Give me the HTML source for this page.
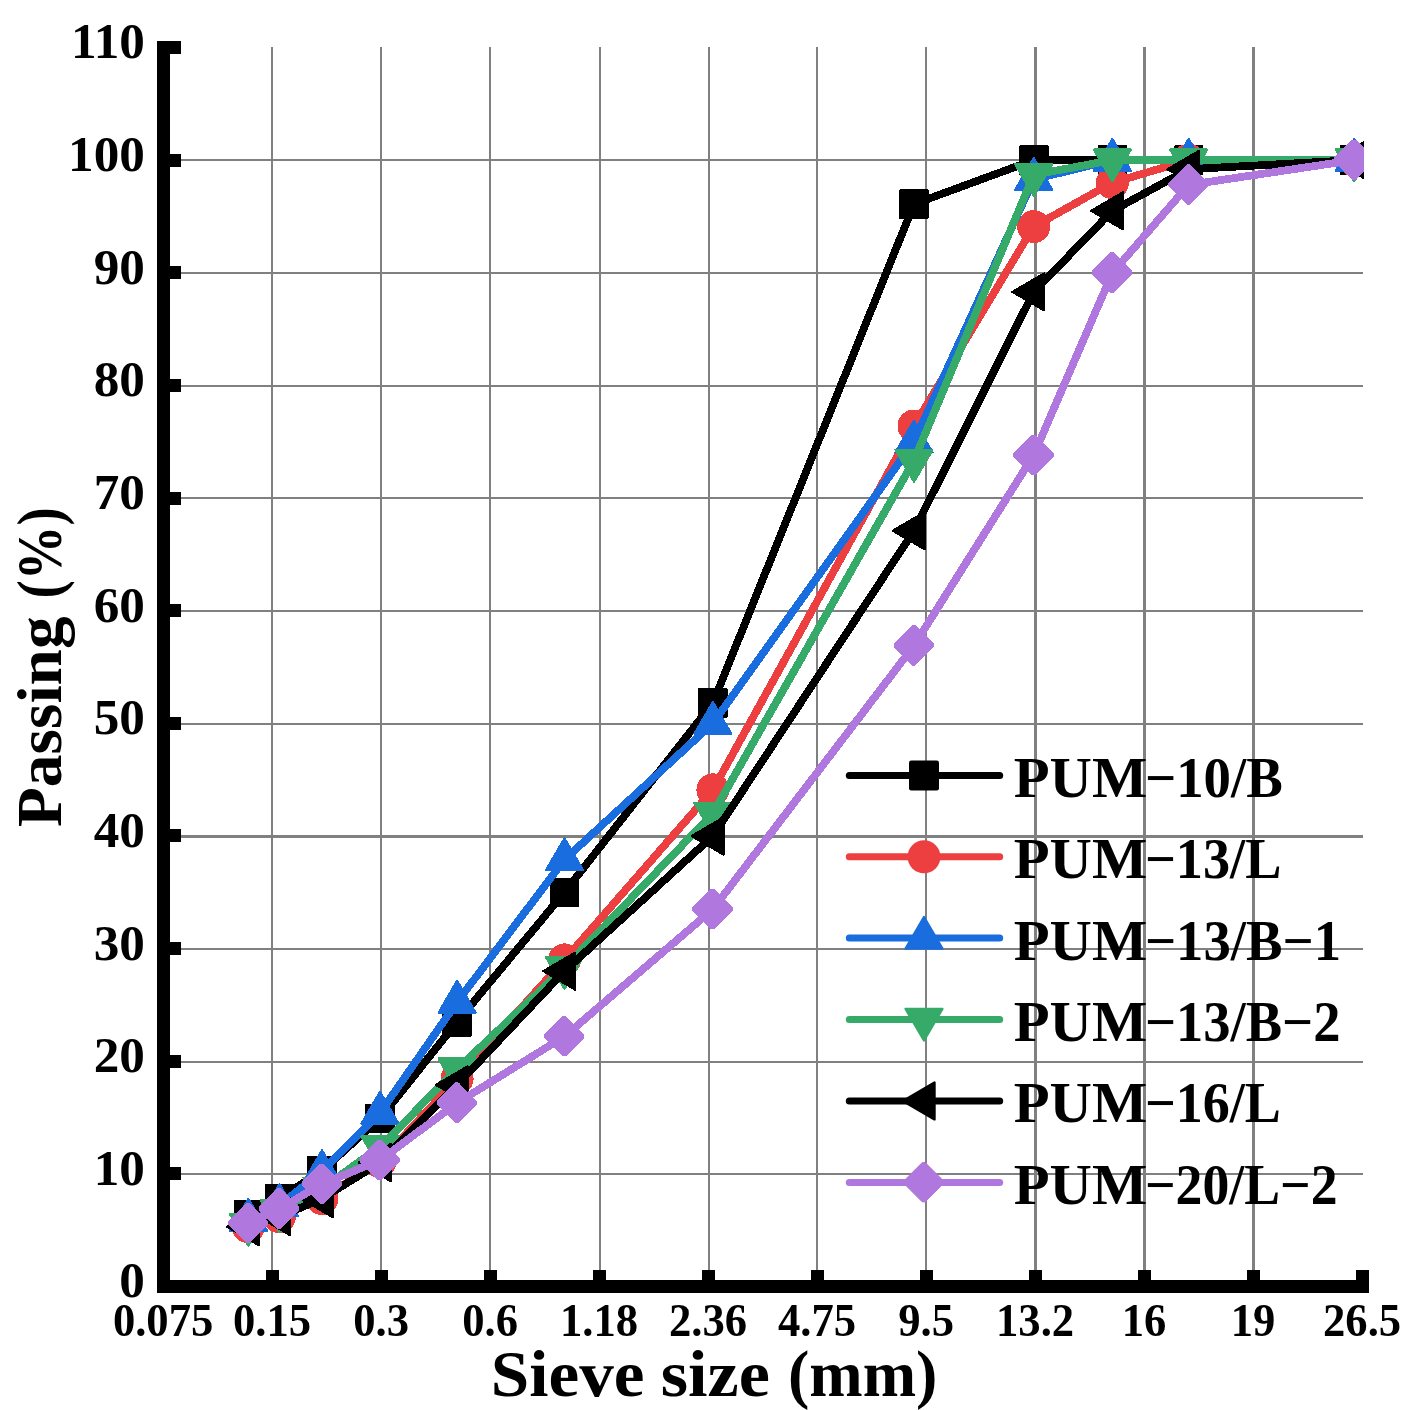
<!DOCTYPE html>
<html lang="en"><head><meta charset="utf-8"><title>Sieve size vs Passing</title>
<style>
html,body{margin:0;padding:0;background:#fff;}
body{width:1415px;height:1410px;overflow:hidden;}
svg{display:block;}
text{font-family:"Liberation Serif",serif;font-weight:bold;fill:#000;}
</style></head><body>
<svg width="1415" height="1410" viewBox="0 0 1415 1410">
<rect width="1415" height="1410" fill="#fff"/>
<defs><clipPath id="plot"><rect x="150" y="30" width="1214" height="1270"/></clipPath></defs>

<g fill="#808080">
<rect x="271" y="47" width="2" height="1235"/>
<rect x="380" y="47" width="2" height="1235"/>
<rect x="489" y="47" width="2" height="1235"/>
<rect x="599" y="47" width="2" height="1235"/>
<rect x="708" y="47" width="2" height="1235"/>
<rect x="816" y="47" width="2" height="1235"/>
<rect x="925" y="47" width="2" height="1235"/>
<rect x="1034" y="47" width="3" height="1235"/>
<rect x="1143" y="47" width="3" height="1235"/>
<rect x="1252" y="47" width="3" height="1235"/>
<rect x="165" y="159" width="1198" height="2"/>
<rect x="165" y="272" width="1198" height="2"/>
<rect x="165" y="385" width="1198" height="2"/>
<rect x="165" y="497" width="1198" height="2"/>
<rect x="165" y="610" width="1198" height="2"/>
<rect x="165" y="723" width="1198" height="2"/>
<rect x="165" y="835" width="1198" height="3"/>
<rect x="165" y="948" width="1198" height="2"/>
<rect x="165" y="1061" width="1198" height="2"/>
<rect x="165" y="1173" width="1198" height="2"/>
</g>
<g clip-path="url(#plot)" shape-rendering="crispEdges">
<polyline points="248.4,1214.4 279.5,1198.6 322.0,1170.5 380.0,1118.7 457.1,1021.8 564.5,892.3 712.9,703.0 914.0,204.1 1033.7,160.1 1112.4,160.1 1188.7,160.1 1354.3,160.1" fill="none" stroke="#000000" stroke-width="7.8" stroke-linejoin="round" stroke-linecap="round"/>
<rect x="233.7" y="1199.7" width="29.5" height="29.5" rx="1" fill="#000000"/>
<rect x="264.8" y="1183.9" width="29.5" height="29.5" rx="1" fill="#000000"/>
<rect x="307.3" y="1155.7" width="29.5" height="29.5" rx="1" fill="#000000"/>
<rect x="365.3" y="1103.9" width="29.5" height="29.5" rx="1" fill="#000000"/>
<rect x="442.3" y="1007.1" width="29.5" height="29.5" rx="1" fill="#000000"/>
<rect x="549.8" y="877.5" width="29.5" height="29.5" rx="1" fill="#000000"/>
<rect x="698.1" y="688.3" width="29.5" height="29.5" rx="1" fill="#000000"/>
<rect x="899.2" y="189.3" width="29.5" height="29.5" rx="1" fill="#000000"/>
<rect x="1019.0" y="145.4" width="29.5" height="29.5" rx="1" fill="#000000"/>
<rect x="1097.7" y="145.4" width="29.5" height="29.5" rx="1" fill="#000000"/>
<rect x="1173.9" y="145.4" width="29.5" height="29.5" rx="1" fill="#000000"/>
<rect x="1339.5" y="145.4" width="29.5" height="29.5" rx="1" fill="#000000"/>
<polyline points="248.4,1226.8 279.5,1216.7 322.0,1198.6 380.0,1161.5 457.1,1078.7 564.5,959.9 712.9,789.8 914.0,426.0 1033.7,226.6 1112.4,182.7 1188.7,160.1 1354.3,160.1" fill="none" stroke="#EE3F40" stroke-width="7.8" stroke-linejoin="round" stroke-linecap="round"/>
<circle cx="248.4" cy="1226.8" r="16.5" fill="#EE3F40"/>
<circle cx="279.5" cy="1216.7" r="16.5" fill="#EE3F40"/>
<circle cx="322.0" cy="1198.6" r="16.5" fill="#EE3F40"/>
<circle cx="380.0" cy="1161.5" r="16.5" fill="#EE3F40"/>
<circle cx="457.1" cy="1078.7" r="16.5" fill="#EE3F40"/>
<circle cx="564.5" cy="959.9" r="16.5" fill="#EE3F40"/>
<circle cx="712.9" cy="789.8" r="16.5" fill="#EE3F40"/>
<circle cx="914.0" cy="426.0" r="16.5" fill="#EE3F40"/>
<circle cx="1033.7" cy="226.6" r="16.5" fill="#EE3F40"/>
<circle cx="1112.4" cy="182.7" r="16.5" fill="#EE3F40"/>
<circle cx="1188.7" cy="160.1" r="16.5" fill="#EE3F40"/>
<circle cx="1354.3" cy="160.1" r="16.5" fill="#EE3F40"/>
<polyline points="248.4,1220.0 279.5,1205.4 322.0,1171.6 380.0,1113.0 457.1,1002.1 564.5,859.6 712.9,723.3 914.0,441.7 1033.7,179.3 1112.4,160.1 1188.7,160.1 1354.3,160.1" fill="none" stroke="#1A6DDE" stroke-width="7.8" stroke-linejoin="round" stroke-linecap="round"/>
<polygon points="230.0,1230.6 266.8,1230.6 248.4,1199.0" fill="#1A6DDE" stroke="#1A6DDE" stroke-width="2.4" stroke-linejoin="round"/>
<polygon points="261.1,1215.9 297.9,1215.9 279.5,1184.3" fill="#1A6DDE" stroke="#1A6DDE" stroke-width="2.4" stroke-linejoin="round"/>
<polygon points="303.6,1182.1 340.4,1182.1 322.0,1150.5" fill="#1A6DDE" stroke="#1A6DDE" stroke-width="2.4" stroke-linejoin="round"/>
<polygon points="361.6,1123.6 398.4,1123.6 380.0,1092.0" fill="#1A6DDE" stroke="#1A6DDE" stroke-width="2.4" stroke-linejoin="round"/>
<polygon points="438.7,1012.6 475.5,1012.6 457.1,981.0" fill="#1A6DDE" stroke="#1A6DDE" stroke-width="2.4" stroke-linejoin="round"/>
<polygon points="546.1,870.1 582.9,870.1 564.5,838.5" fill="#1A6DDE" stroke="#1A6DDE" stroke-width="2.4" stroke-linejoin="round"/>
<polygon points="694.5,733.9 731.3,733.9 712.9,702.3" fill="#1A6DDE" stroke="#1A6DDE" stroke-width="2.4" stroke-linejoin="round"/>
<polygon points="895.6,452.3 932.4,452.3 914.0,420.7" fill="#1A6DDE" stroke="#1A6DDE" stroke-width="2.4" stroke-linejoin="round"/>
<polygon points="1015.3,189.8 1052.1,189.8 1033.7,158.2" fill="#1A6DDE" stroke="#1A6DDE" stroke-width="2.4" stroke-linejoin="round"/>
<polygon points="1094.0,170.7 1130.8,170.7 1112.4,139.1" fill="#1A6DDE" stroke="#1A6DDE" stroke-width="2.4" stroke-linejoin="round"/>
<polygon points="1170.3,170.7 1207.1,170.7 1188.7,139.1" fill="#1A6DDE" stroke="#1A6DDE" stroke-width="2.4" stroke-linejoin="round"/>
<polygon points="1335.9,170.7 1372.7,170.7 1354.3,139.1" fill="#1A6DDE" stroke="#1A6DDE" stroke-width="2.4" stroke-linejoin="round"/>
<polyline points="248.4,1224.6 279.5,1211.0 322.0,1188.5 380.0,1146.8 457.1,1069.1 564.5,967.7 712.9,813.4 914.0,460.5 1033.7,174.8 1112.4,160.1 1188.7,160.1 1354.3,160.1" fill="none" stroke="#36AA69" stroke-width="7.8" stroke-linejoin="round" stroke-linecap="round"/>
<polygon points="230.0,1214.0 266.8,1214.0 248.4,1245.6" fill="#36AA69" stroke="#36AA69" stroke-width="2.4" stroke-linejoin="round"/>
<polygon points="261.1,1200.5 297.9,1200.5 279.5,1232.1" fill="#36AA69" stroke="#36AA69" stroke-width="2.4" stroke-linejoin="round"/>
<polygon points="303.6,1178.0 340.4,1178.0 322.0,1209.6" fill="#36AA69" stroke="#36AA69" stroke-width="2.4" stroke-linejoin="round"/>
<polygon points="361.6,1136.3 398.4,1136.3 380.0,1167.9" fill="#36AA69" stroke="#36AA69" stroke-width="2.4" stroke-linejoin="round"/>
<polygon points="438.7,1058.6 475.5,1058.6 457.1,1090.2" fill="#36AA69" stroke="#36AA69" stroke-width="2.4" stroke-linejoin="round"/>
<polygon points="546.1,957.2 582.9,957.2 564.5,988.8" fill="#36AA69" stroke="#36AA69" stroke-width="2.4" stroke-linejoin="round"/>
<polygon points="694.5,802.9 731.3,802.9 712.9,834.5" fill="#36AA69" stroke="#36AA69" stroke-width="2.4" stroke-linejoin="round"/>
<polygon points="895.6,450.0 932.4,450.0 914.0,481.6" fill="#36AA69" stroke="#36AA69" stroke-width="2.4" stroke-linejoin="round"/>
<polygon points="1015.3,164.2 1052.1,164.2 1033.7,195.8" fill="#36AA69" stroke="#36AA69" stroke-width="2.4" stroke-linejoin="round"/>
<polygon points="1094.0,149.6 1130.8,149.6 1112.4,181.2" fill="#36AA69" stroke="#36AA69" stroke-width="2.4" stroke-linejoin="round"/>
<polygon points="1170.3,149.6 1207.1,149.6 1188.7,181.2" fill="#36AA69" stroke="#36AA69" stroke-width="2.4" stroke-linejoin="round"/>
<polygon points="1335.9,149.6 1372.7,149.6 1354.3,181.2" fill="#36AA69" stroke="#36AA69" stroke-width="2.4" stroke-linejoin="round"/>
<polyline points="248.4,1226.8 279.5,1216.7 322.0,1198.6 380.0,1162.6 457.1,1084.9 564.5,971.1 712.9,836.0 914.0,530.7 1033.7,291.9 1112.4,210.8 1188.7,169.2 1354.3,160.1" fill="none" stroke="#000000" stroke-width="7.8" stroke-linejoin="round" stroke-linecap="round"/>
<polygon points="259.0,1208.4 259.0,1245.2 227.4,1226.8" fill="#000000" stroke="#000000" stroke-width="2.4" stroke-linejoin="round"/>
<polygon points="290.1,1198.3 290.1,1235.1 258.5,1216.7" fill="#000000" stroke="#000000" stroke-width="2.4" stroke-linejoin="round"/>
<polygon points="332.5,1180.2 332.5,1217.0 300.9,1198.6" fill="#000000" stroke="#000000" stroke-width="2.4" stroke-linejoin="round"/>
<polygon points="390.6,1144.2 390.6,1181.0 359.0,1162.6" fill="#000000" stroke="#000000" stroke-width="2.4" stroke-linejoin="round"/>
<polygon points="467.6,1066.5 467.6,1103.3 436.0,1084.9" fill="#000000" stroke="#000000" stroke-width="2.4" stroke-linejoin="round"/>
<polygon points="575.1,952.7 575.1,989.5 543.5,971.1" fill="#000000" stroke="#000000" stroke-width="2.4" stroke-linejoin="round"/>
<polygon points="723.4,817.6 723.4,854.4 691.8,836.0" fill="#000000" stroke="#000000" stroke-width="2.4" stroke-linejoin="round"/>
<polygon points="924.5,512.3 924.5,549.1 892.9,530.7" fill="#000000" stroke="#000000" stroke-width="2.4" stroke-linejoin="round"/>
<polygon points="1044.2,273.5 1044.2,310.3 1012.6,291.9" fill="#000000" stroke="#000000" stroke-width="2.4" stroke-linejoin="round"/>
<polygon points="1122.9,192.4 1122.9,229.2 1091.3,210.8" fill="#000000" stroke="#000000" stroke-width="2.4" stroke-linejoin="round"/>
<polygon points="1199.2,150.8 1199.2,187.6 1167.6,169.2" fill="#000000" stroke="#000000" stroke-width="2.4" stroke-linejoin="round"/>
<polygon points="1364.8,141.7 1364.8,178.5 1333.2,160.1" fill="#000000" stroke="#000000" stroke-width="2.4" stroke-linejoin="round"/>
<polyline points="248.4,1223.4 279.5,1208.8 322.0,1184.0 380.0,1160.3 457.1,1102.9 564.5,1036.4 712.9,909.2 914.0,645.6 1033.7,455.2 1112.4,272.8 1188.7,184.9 1354.3,160.1" fill="none" stroke="#B078DE" stroke-width="7.8" stroke-linejoin="round" stroke-linecap="round"/>
<polygon points="228.4,1221.7 246.7,1203.4 249.5,1203.4 267.8,1221.7 267.8,1224.5 249.5,1242.8 246.7,1242.8 228.4,1224.5" fill="#B078DE" stroke="#B078DE" stroke-width="1" stroke-linejoin="round"/>
<polygon points="259.5,1207.1 277.8,1188.8 280.6,1188.8 298.9,1207.1 298.9,1209.9 280.6,1228.2 277.8,1228.2 259.5,1209.9" fill="#B078DE" stroke="#B078DE" stroke-width="1" stroke-linejoin="round"/>
<polygon points="302.0,1182.3 320.3,1164.0 323.1,1164.0 341.4,1182.3 341.4,1185.1 323.1,1203.4 320.3,1203.4 302.0,1185.1" fill="#B078DE" stroke="#B078DE" stroke-width="1" stroke-linejoin="round"/>
<polygon points="360.0,1158.6 378.3,1140.3 381.1,1140.3 399.4,1158.6 399.4,1161.4 381.1,1179.7 378.3,1179.7 360.0,1161.4" fill="#B078DE" stroke="#B078DE" stroke-width="1" stroke-linejoin="round"/>
<polygon points="437.1,1101.2 455.4,1082.9 458.2,1082.9 476.5,1101.2 476.5,1104.0 458.2,1122.3 455.4,1122.3 437.1,1104.0" fill="#B078DE" stroke="#B078DE" stroke-width="1" stroke-linejoin="round"/>
<polygon points="544.5,1034.7 562.8,1016.4 565.6,1016.4 583.9,1034.7 583.9,1037.5 565.6,1055.8 562.8,1055.8 544.5,1037.5" fill="#B078DE" stroke="#B078DE" stroke-width="1" stroke-linejoin="round"/>
<polygon points="692.9,907.5 711.2,889.2 714.0,889.2 732.3,907.5 732.3,910.3 714.0,928.6 711.2,928.6 692.9,910.3" fill="#B078DE" stroke="#B078DE" stroke-width="1" stroke-linejoin="round"/>
<polygon points="894.0,643.9 912.3,625.6 915.1,625.6 933.4,643.9 933.4,646.7 915.1,665.0 912.3,665.0 894.0,646.7" fill="#B078DE" stroke="#B078DE" stroke-width="1" stroke-linejoin="round"/>
<polygon points="1013.7,453.5 1032.0,435.2 1034.8,435.2 1053.1,453.5 1053.1,456.3 1034.8,474.6 1032.0,474.6 1013.7,456.3" fill="#B078DE" stroke="#B078DE" stroke-width="1" stroke-linejoin="round"/>
<polygon points="1092.4,271.1 1110.7,252.8 1113.5,252.8 1131.8,271.1 1131.8,273.9 1113.5,292.2 1110.7,292.2 1092.4,273.9" fill="#B078DE" stroke="#B078DE" stroke-width="1" stroke-linejoin="round"/>
<polygon points="1168.7,183.2 1187.0,164.9 1189.8,164.9 1208.1,183.2 1208.1,186.0 1189.8,204.3 1187.0,204.3 1168.7,186.0" fill="#B078DE" stroke="#B078DE" stroke-width="1" stroke-linejoin="round"/>
<polygon points="1334.3,158.4 1352.6,140.1 1355.4,140.1 1373.7,158.4 1373.7,161.2 1355.4,179.5 1352.6,179.5 1334.3,161.2" fill="#B078DE" stroke="#B078DE" stroke-width="1" stroke-linejoin="round"/>
</g>
<g fill="#000">
<rect x="157" y="41" width="13" height="1252"/>
<rect x="157" y="1280" width="1212" height="13"/>
<rect x="163" y="1280" width="18" height="13"/>
<rect x="163" y="1167" width="18" height="13"/>
<rect x="163" y="1055" width="18" height="13"/>
<rect x="163" y="942" width="18" height="13"/>
<rect x="163" y="829" width="18" height="13"/>
<rect x="163" y="717" width="18" height="13"/>
<rect x="163" y="604" width="18" height="13"/>
<rect x="163" y="492" width="18" height="13"/>
<rect x="163" y="379" width="18" height="13"/>
<rect x="163" y="266" width="18" height="13"/>
<rect x="163" y="154" width="18" height="13"/>
<rect x="163" y="41" width="18" height="13"/>
<rect x="157" y="1270" width="13" height="16"/>
<rect x="266" y="1270" width="13" height="16"/>
<rect x="375" y="1270" width="13" height="16"/>
<rect x="484" y="1270" width="13" height="16"/>
<rect x="593" y="1270" width="13" height="16"/>
<rect x="702" y="1270" width="13" height="16"/>
<rect x="811" y="1270" width="13" height="16"/>
<rect x="920" y="1270" width="13" height="16"/>
<rect x="1029" y="1270" width="13" height="16"/>
<rect x="1138" y="1270" width="13" height="16"/>
<rect x="1247" y="1270" width="13" height="16"/>
<rect x="1356" y="1270" width="13" height="16"/>
</g>
<text transform="translate(144.9,1297.4) scale(1.0,1)" font-size="51.2" text-anchor="end">0</text>
<text transform="translate(144.9,1184.8) scale(1.0,1)" font-size="51.2" text-anchor="end">10</text>
<text transform="translate(144.9,1072.1) scale(1.0,1)" font-size="51.2" text-anchor="end">20</text>
<text transform="translate(144.9,959.5) scale(1.0,1)" font-size="51.2" text-anchor="end">30</text>
<text transform="translate(144.9,846.9) scale(1.0,1)" font-size="51.2" text-anchor="end">40</text>
<text transform="translate(144.9,734.2) scale(1.0,1)" font-size="51.2" text-anchor="end">50</text>
<text transform="translate(144.9,621.6) scale(1.0,1)" font-size="51.2" text-anchor="end">60</text>
<text transform="translate(144.9,508.9) scale(1.0,1)" font-size="51.2" text-anchor="end">70</text>
<text transform="translate(144.9,396.3) scale(1.0,1)" font-size="51.2" text-anchor="end">80</text>
<text transform="translate(144.9,283.7) scale(1.0,1)" font-size="51.2" text-anchor="end">90</text>
<text transform="translate(144.9,171.0) scale(1.0,1)" font-size="51.2" text-anchor="end">100</text>
<text transform="translate(144.9,58.4) scale(1.0,1)" font-size="51.2" text-anchor="end">110</text>
<text transform="translate(163.1,1335.8) scale(0.977,1)" font-size="45.7" text-anchor="middle">0.075</text>
<text transform="translate(272.1,1335.8) scale(0.977,1)" font-size="45.7" text-anchor="middle">0.15</text>
<text transform="translate(381.1,1335.8) scale(0.977,1)" font-size="45.7" text-anchor="middle">0.3</text>
<text transform="translate(490.1,1335.8) scale(0.977,1)" font-size="45.7" text-anchor="middle">0.6</text>
<text transform="translate(599.1,1335.8) scale(0.977,1)" font-size="45.7" text-anchor="middle">1.18</text>
<text transform="translate(708.1,1335.8) scale(0.977,1)" font-size="45.7" text-anchor="middle">2.36</text>
<text transform="translate(817.1,1335.8) scale(0.977,1)" font-size="45.7" text-anchor="middle">4.75</text>
<text transform="translate(926.1,1335.8) scale(0.977,1)" font-size="45.7" text-anchor="middle">9.5</text>
<text transform="translate(1035.1,1335.8) scale(0.977,1)" font-size="45.7" text-anchor="middle">13.2</text>
<text transform="translate(1144.1,1335.8) scale(0.977,1)" font-size="45.7" text-anchor="middle">16</text>
<text transform="translate(1253.1,1335.8) scale(0.977,1)" font-size="45.7" text-anchor="middle">19</text>
<text transform="translate(1362.1,1335.8) scale(0.977,1)" font-size="45.7" text-anchor="middle">26.5</text>
<text y="1395.9" font-size="65"><tspan x="490.77" textLength="153.79" lengthAdjust="spacingAndGlyphs">Sieve</tspan> <tspan x="660.69" textLength="109.12" lengthAdjust="spacingAndGlyphs">size</tspan> <tspan x="787.92" textLength="149.48" lengthAdjust="spacingAndGlyphs">(mm)</tspan></text>
<text transform="translate(61,0) rotate(-90)" y="0" font-size="64"><tspan x="-827.14" textLength="210.75" lengthAdjust="spacingAndGlyphs">Passing</tspan> <tspan x="-598.46" textLength="91.04" lengthAdjust="spacingAndGlyphs">(%)</tspan></text>
<line x1="849.3" y1="775.5" x2="999.7" y2="775.5" stroke="#000000" stroke-width="7" stroke-linecap="round"/>
<rect x="909.0" y="760.5" width="30" height="30" rx="2.2" fill="#000000"/>
<text y="796.9" font-size="57"><tspan x="1013.77" textLength="133.55" lengthAdjust="spacingAndGlyphs">PUM</tspan><tspan x="1144.92" textLength="137.87" lengthAdjust="spacingAndGlyphs">−10/B</tspan></text>
<line x1="849.3" y1="856.8" x2="999.7" y2="856.8" stroke="#EE3F40" stroke-width="7" stroke-linecap="round"/>
<circle cx="924.0" cy="856.8" r="16.5" fill="#EE3F40"/>
<text y="878.2" font-size="57"><tspan x="1013.77" textLength="133.55" lengthAdjust="spacingAndGlyphs">PUM</tspan><tspan x="1144.95" textLength="136.44" lengthAdjust="spacingAndGlyphs">−13/L</tspan></text>
<line x1="849.3" y1="938.1" x2="999.7" y2="938.1" stroke="#1A6DDE" stroke-width="7" stroke-linecap="round"/>
<polygon points="905.6,948.6 942.4,948.6 924.0,917.0" fill="#1A6DDE" stroke="#1A6DDE" stroke-width="2.4" stroke-linejoin="round"/>
<text y="959.5" font-size="57"><tspan x="1013.77" textLength="133.55" lengthAdjust="spacingAndGlyphs">PUM</tspan><tspan x="1144.93" textLength="196.12" lengthAdjust="spacingAndGlyphs">−13/B−1</tspan></text>
<line x1="849.3" y1="1019.4" x2="999.7" y2="1019.4" stroke="#36AA69" stroke-width="7" stroke-linecap="round"/>
<polygon points="905.6,1008.9 942.4,1008.9 924.0,1040.5" fill="#36AA69" stroke="#36AA69" stroke-width="2.4" stroke-linejoin="round"/>
<text y="1040.8" font-size="57"><tspan x="1013.77" textLength="133.55" lengthAdjust="spacingAndGlyphs">PUM</tspan><tspan x="1144.94" textLength="195.56" lengthAdjust="spacingAndGlyphs">−13/B−2</tspan></text>
<line x1="849.3" y1="1101" x2="999.7" y2="1101" stroke="#000000" stroke-width="7" stroke-linecap="round"/>
<polygon points="934.5,1082.6 934.5,1119.4 902.9,1101.0" fill="#000000" stroke="#000000" stroke-width="2.4" stroke-linejoin="round"/>
<text y="1122.4" font-size="57"><tspan x="1013.77" textLength="133.55" lengthAdjust="spacingAndGlyphs">PUM</tspan><tspan x="1144.96" textLength="135.92" lengthAdjust="spacingAndGlyphs">−16/L</tspan></text>
<line x1="849.3" y1="1182.5" x2="999.7" y2="1182.5" stroke="#B078DE" stroke-width="7" stroke-linecap="round"/>
<polygon points="904.0,1180.8 922.3,1162.5 925.1,1162.5 943.4,1180.8 943.4,1183.6 925.1,1201.9 922.3,1201.9 904.0,1183.6" fill="#B078DE" stroke="#B078DE" stroke-width="1" stroke-linejoin="round"/>
<text y="1203.9" font-size="57"><tspan x="1013.77" textLength="133.55" lengthAdjust="spacingAndGlyphs">PUM</tspan><tspan x="1144.98" textLength="192.58" lengthAdjust="spacingAndGlyphs">−20/L−2</tspan></text>
</svg></body></html>
